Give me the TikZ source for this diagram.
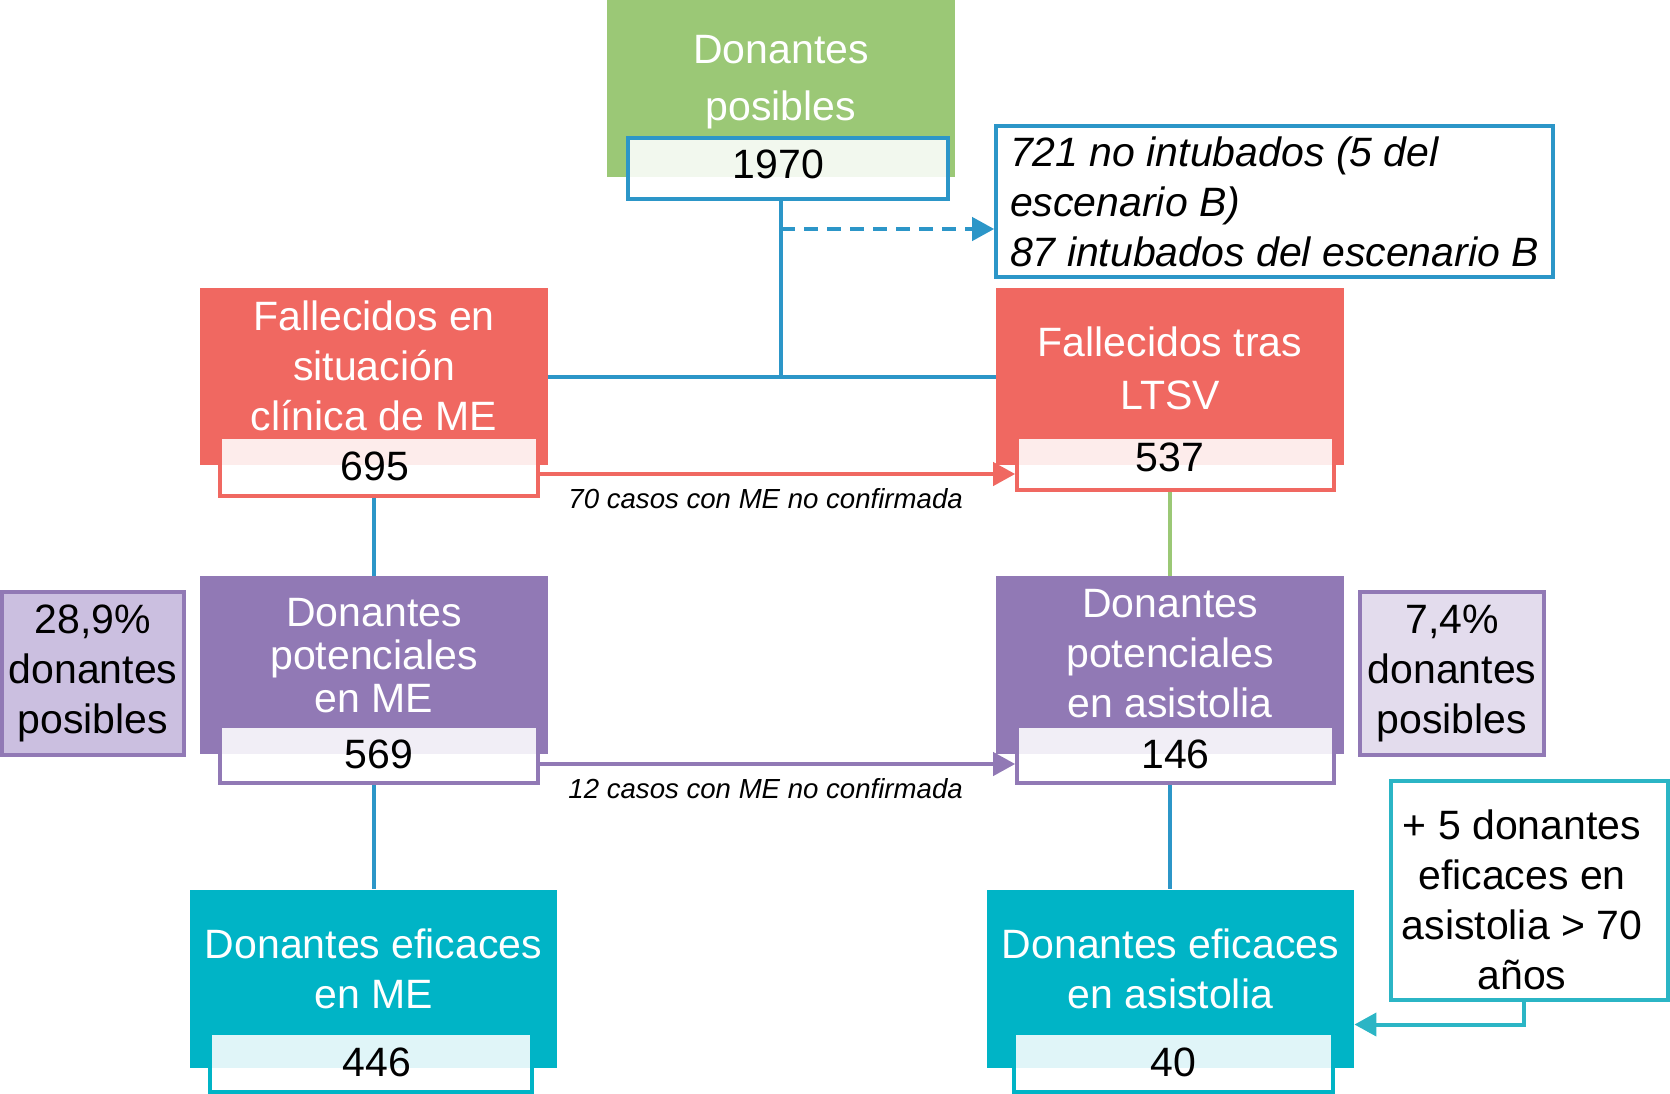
\documentclass[tikz,border=0pt]{standalone}
\usepackage{fontspec}
\setmainfont{Liberation Sans}
\usetikzlibrary{arrows.meta}
\definecolor{fgreen}{RGB}{155,200,118}
\definecolor{fred}{RGB}{240,104,97}
\definecolor{fpurp}{RGB}{145,121,181}
\definecolor{fteal}{RGB}{0,180,198}
\definecolor{lnblue}{RGB}{44,150,200}
\definecolor{tealb}{RGB}{43,181,197}
\definecolor{lpl}{RGB}{203,191,224}
\definecolor{lpr}{RGB}{227,220,237}
\tikzset{
  box/.style={rectangle, inner sep=0pt, minimum width=174pt, minimum height=88.5pt},
  title/.style={text=white, align=center, inner sep=0pt, font=\fontsize{20.5}{25}\selectfont},
  numbox/.style={rectangle, inner sep=0pt, line width=1.8pt, fill=white, fill opacity=0.88, text opacity=1, font=\fontsize{20.5}{25}\selectfont},
  link/.style={line width=2pt, draw=lnblue},
  tip/.style={-{Triangle[length=11pt,width=11.5pt]}},
  lbl/.style={inner sep=0pt, text=black, font=\fontsize{13.8}{16}\selectfont\itshape},
  pct/.style={rectangle, inner sep=0pt, line width=1.8pt, draw=fpurp, minimum width=91pt, minimum height=81.5pt, align=center, font=\fontsize{20.5}{25}\selectfont}
}
\begin{document}
\begin{tikzpicture}[x=0.5pt,y=-0.5pt]
\useasboundingbox (0,0) rectangle (1670,1093);
\node[box, fill=fgreen] (dpos) at (781,88.5) {};
\node[title, font=\fontsize{20.5}{28.5}\selectfont] (dpost) at (781,82) {Donantes\\posibles};
\node[numbox, draw=lnblue, minimum width=160pt, minimum height=30.5pt] (npos) at (788,168.5) {\hspace*{-9.6pt}\raisebox{4pt}{1970}};
\node[draw=lnblue, line width=1.8pt, inner sep=0pt, minimum width=278.5pt, minimum height=75.5pt, align=left, font=\fontsize{20.5}{25}\selectfont\itshape] (note) at (1274.5,201.5) {721 no intubados (5 del\\escenario B)\\87 intubados del escenario B};
\node[box, fill=fred] (fme) at (374,376.5) {};
\node[title] (fmet) at (374,366) {Fallecidos en\\situación\\clínica de ME};
\node[numbox, draw=fred, minimum width=159pt, minimum height=29.5pt] (nfme) at (379,466.5) {\hspace*{-4pt}695};
\node[box, fill=fred] (flt) at (1170,376.5) {};
\node[title, font=\fontsize{20.5}{26.5}\selectfont] (fltt) at (1170,368) {Fallecidos tras\\LTSV};
\node[numbox, draw=fred, minimum width=158.5pt, minimum height=26.5pt] (nflt) at (1175.5,463.5) {\hspace*{-5.4pt}\raisebox{6.5pt}{537}};
\node[box, fill=fpurp, minimum height=89pt] (dpm) at (374,665) {};
\node[title, font=\fontsize{20.5}{21.5}\selectfont] (dpmt) at (374,656) {Donantes\\potenciales\\en ME};
\node[numbox, draw=fpurp, minimum width=159pt, minimum height=28.5pt] (ndpm) at (379,754.5) {569};
\node[box, fill=fpurp, minimum height=89pt] (dpa) at (1170,665) {};
\node[title] (dpat) at (1170,654) {Donantes\\potenciales\\en asistolia};
\node[numbox, draw=fpurp, minimum width=158.5pt, minimum height=28.5pt] (ndpa) at (1175.5,754.5) {146};
\node[pct, fill=lpl] (pcl) at (93,673.5) {28,9\%\\donantes\\posibles};
\node[pct, fill=lpr, minimum width=92pt] (pcr) at (1452,673.5) {7,4\%\\donantes\\posibles};
\node[box, fill=fteal, minimum width=183.5pt, minimum height=89pt] (eml) at (373.5,978.5) {};
\node[title] (emlt) at (373.5,969) {Donantes eficaces\\en ME};
\node[numbox, draw=fteal, minimum width=161pt, minimum height=29.5pt] (neml) at (371,1062.5) {\hspace*{6pt}446};
\node[box, fill=fteal, minimum width=183.5pt, minimum height=89pt] (ema) at (1170.5,978.5) {};
\node[title] (emat) at (1170.5,969) {Donantes eficaces\\en asistolia};
\node[numbox, draw=fteal, minimum width=159.5pt, minimum height=29.5pt] (nema) at (1173.5,1062.5) {40};
\node[draw=tealb, line width=1.8pt, fill=white, inner sep=0pt, minimum width=138.5pt, minimum height=109.5pt] (extra) at (1529.5,890.5) {};
\node[align=center, inner sep=0pt, font=\fontsize{20.5}{25}\selectfont] (extrat) at (1522,900) {+ 5 donantes\\eficaces en\\asistolia > 70\\años};
\coordinate (dj) at (781,229);
\draw[link] (dpos.center |- npos.south) -- (dpos.center |- fme.east);
\draw[link] (fme.east) -- (flt.west);
\draw[link, dash pattern=on 7pt off 4.5pt, tip] (dj) -- (dj -| note.west);
\draw[fred, line width=2pt, tip] ([yshift=-3.75pt]nfme.east) -- ([yshift=-3.75pt]nfme.east -| nflt.west) node[lbl, pos=0.475, below=6pt] {70 casos con ME no confirmada};
\draw[link] (fme.center |- nfme.south) -- (dpm.north);
\draw[fgreen, line width=1.6pt] (flt.center |- nflt.south) -- (dpa.north);
\draw[fpurp, line width=2pt, tip] ([yshift=-4.75pt]ndpm.east) -- ([yshift=-4.75pt]ndpm.east -| ndpa.west) node[lbl, pos=0.475, below=6pt] {12 casos con ME no confirmada};
\draw[link] (dpm.center |- ndpm.south) -- (dpm.center |- eml.north);
\draw[link] (dpa.center |- ndpa.south) -- (dpa.center |- ema.north);
\draw[tealb, line width=2pt, tip] ([xshift=-3pt]extra.south) |- ([yshift=-23pt]ema.east);
\end{tikzpicture}
\end{document}
